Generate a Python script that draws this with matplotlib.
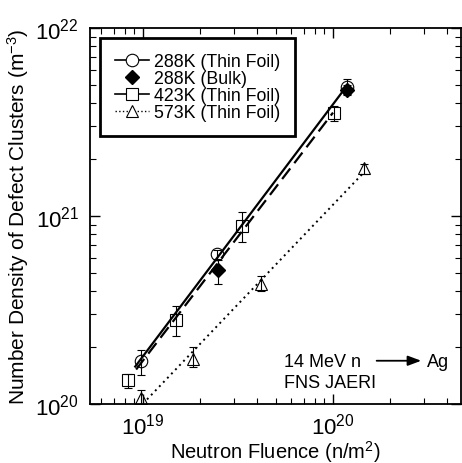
import numpy as np
import matplotlib
matplotlib.use('Agg')
import matplotlib.pyplot as plt
from matplotlib.ticker import LogLocator, NullFormatter

plt.rcParams['font.family'] = ['Liberation Sans', 'DejaVu Sans']
plt.rcParams['mathtext.fontset'] = 'custom'
plt.rcParams['mathtext.rm'] = 'Liberation Sans'
plt.rcParams['mathtext.it'] = 'Liberation Sans:italic'
plt.rcParams['mathtext.bf'] = 'Liberation Sans:bold'

# 288K thin foil
x_288 = [0.98e19, 2.44e19, 1.185e20]
y_288 = [1.69e20, 6.25e20, 4.84e21]
lo_288 = [1.43e20, 5.9e20, 4.4e21]
hi_288 = [1.94e20, 6.6e20, 5.35e21]

# 288K bulk
x_bulk = [2.49e19, 1.185e20]
y_bulk = [5.14e20, 4.70e21]
lo_bulk = [4.36e20, 4.45e21]
hi_bulk = [5.83e20, 4.95e21]

# 423K thin foil
x_423 = [8.37e18, 1.49e19, 3.31e19, 1.016e20]
y_423 = [1.34e20, 2.79e20, 8.81e20, 3.52e21]
lo_423 = [1.22e20, 2.30e20, 7.24e20, 3.2e21]
hi_423 = [1.45e20, 3.32e20, 1.046e21, 3.85e21]

# 573K thin foil
x_573 = [0.98e19, 1.84e19, 4.18e19, 1.456e20]
y_573 = [1.08e20, 1.74e20, 4.36e20, 1.79e21]
lo_573 = [1.0e20, 1.57e20, 4.0e20, 1.68e21]
hi_573 = [1.19e20, 2.01e20, 4.8e20, 1.90e21]

# fluence range of each fitted line
fit_288 = [0.91e19, 1.185e20]
fit_423 = [0.92e19, 1.0e20]
fit_573 = [1.05e19, 1.456e20]


def power_fit(x, y, rng):
    p = np.polyfit(np.log10(x), np.log10(y), 1)
    xx = np.logspace(np.log10(rng[0]), np.log10(rng[1]), 50)
    return xx, 10 ** np.polyval(p, np.log10(xx))


def yerr(y, lo, hi):
    y = np.array(y)
    return [y - np.array(lo), np.array(hi) - y]


fig = plt.figure(figsize=(4.62, 4.64), dpi=100)
ax = fig.add_axes([0.1948, 0.1272, 0.8032, 0.8103])

xx, yy = power_fit(x_288, y_288, fit_288)
ax.plot(xx, yy, color='black', lw=1.6, ls='-')
xx, yy = power_fit(x_423, y_423, fit_423)
ax.plot(xx, yy, color='black', lw=1.6, ls=(0, (6, 3)))
xx, yy = power_fit(x_573, y_573, fit_573)
ax.plot(xx, yy, color='black', lw=1.4, ls=(0, (1, 2)))

eb = dict(fmt='none', ecolor='black', elinewidth=0.8, capsize=3, capthick=0.8)
ax.errorbar(x_288, y_288, yerr=yerr(y_288, lo_288, hi_288), **eb)
ax.errorbar(x_bulk, y_bulk, yerr=yerr(y_bulk, lo_bulk, hi_bulk), **eb)
ax.errorbar(x_423, y_423, yerr=yerr(y_423, lo_423, hi_423), **eb)
ax.errorbar(x_573, y_573, yerr=yerr(y_573, lo_573, hi_573), **eb)

ax.plot(x_288, y_288, 'o', mfc='none', mec='black', ms=9, mew=0.8)
ax.plot(x_bulk, y_bulk, 'D', mfc='black', mec='black', ms=7)
ax.plot(x_423, y_423, 's', mfc='none', mec='black', ms=9, mew=0.8)
ax.plot(x_573, y_573, '^', mfc='none', mec='black', ms=9, mew=0.8)

h1, = ax.plot([], [], '-o', color='black', mfc='white', ms=9, mew=0.8, lw=1.2)
h2, = ax.plot([], [], 'D', color='black', ms=7)
h3, = ax.plot([], [], '-s', color='black', mfc='white', ms=9, mew=0.8, lw=1.2)
h4, = ax.plot([], [], ':^', color='black', mfc='white', ms=9, mew=0.8, lw=1.0)
leg = ax.legend([h1, h2, h3, h4],
                ['288K (Thin Foil)', '288K (Bulk)', '423K (Thin Foil)', '573K (Thin Foil)'],
                loc='upper left', bbox_to_anchor=(0.012, 0.987), fontsize=12.8,
                handlelength=1.9, handletextpad=0.3, labelspacing=0.0,
                borderpad=0.85, borderaxespad=0.3, fancybox=False, framealpha=1)
leg.get_frame().set_edgecolor('black')
leg.get_frame().set_linewidth(2.0)

ax.set_xscale('log')
ax.set_yscale('log')
ax.set_xlim(5.26e18, 4.72e20)
ax.set_ylim(1e20, 1e22)

ax.xaxis.set_minor_locator(LogLocator(base=10, subs=np.arange(2, 10)))
ax.yaxis.set_minor_locator(LogLocator(base=10, subs=np.arange(2, 10)))
ax.xaxis.set_minor_formatter(NullFormatter())
ax.yaxis.set_minor_formatter(NullFormatter())
ax.tick_params(which='both', direction='in', top=True, right=True, labelsize=16)
ax.tick_params(which='major', length=7, width=1.0, pad=8)
ax.tick_params(axis='x', which='major', pad=6)
ax.tick_params(which='minor', length=4, width=0.8)
for s in ax.spines.values():
    s.set_linewidth(1.3)

ax.set_xlabel('Neutron Fluence (n/m$^2$)', fontsize=14.5, labelpad=0)
ax.set_ylabel('Number Density of Defect Clusters (m$^{-3}$)', fontsize=15, labelpad=3)

ax.text(0.522, 0.113, '14 MeV n', transform=ax.transAxes, fontsize=13, va='center')
ax.text(0.522, 0.058, 'FNS JAERI', transform=ax.transAxes, fontsize=13, va='center')
ax.annotate('', xy=(0.9, 0.115), xytext=(0.765, 0.115), xycoords='axes fraction',
            arrowprops=dict(arrowstyle='-|>,head_length=0.8,head_width=0.3',
                            color='black', lw=1.3))
ax.text(0.907, 0.113, 'Ag', transform=ax.transAxes, fontsize=13, va='center')

fig.savefig('out.png', dpi=100)
